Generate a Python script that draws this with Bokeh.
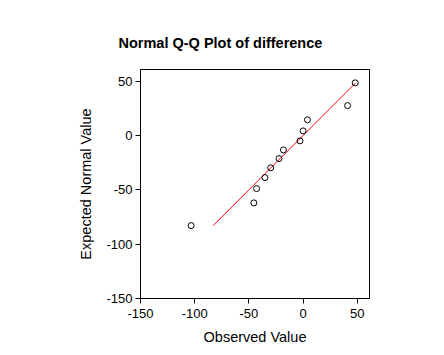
from bokeh.plotting import figure
from bokeh.models import Range1d, FixedTicker, CustomJSTickFormatter
from bokeh.embed import file_html
from bokeh.resources import INLINE

observed = [48.1, 41.1, 4.1, 0.0, -2.8, -18.1, -22.2, -29.9, -35.2, -42.9, -45.4, -103.3]
expected = [48.5, 27.6, 14.5, 4.3, -4.9, -13.2, -21.2, -29.7, -38.7, -48.8, -62.0, -82.9]
line_x = [-82.9, 48.5]
line_y = [-82.9, 48.5]
ticks = [-150, -100, -50, 0, 50]

FONT = "Liberation Sans"

p = figure(width=444, height=355, output_backend="svg", toolbar_location=None,
           x_range=Range1d(-150, 61.3), y_range=Range1d(-150, 60.8),
           title="Normal Q-Q Plot of difference",
           min_border_left=140, min_border_right=75, min_border_top=69, min_border_bottom=57)

p.title.text_font = FONT
p.title.text_font_size = "14.5px"
p.title.text_font_style = "bold"
p.title.text_color = "black"
p.title.align = "left"
p.title.offset = -22
p.title.standoff = 37

p.grid.visible = False
p.outline_line_color = "black"
p.outline_line_width = 1
p.background_fill_color = "white"
p.border_fill_color = "white"

for ax in (p.xaxis[0], p.yaxis[0]):
    ax.ticker = FixedTicker(ticks=ticks)
    ax.formatter = CustomJSTickFormatter(code="return tick.toString();")
    ax.minor_tick_line_color = None
    ax.major_tick_in = 0
    ax.major_tick_out = 5
    ax.axis_line_color = "black"
    ax.major_tick_line_color = "black"
    ax.major_label_text_font = FONT
    ax.major_label_text_font_size = "13px"
    ax.major_label_text_color = "black"
    ax.axis_label_text_font = FONT
    ax.axis_label_text_font_size = "14.5px"
    ax.axis_label_text_font_style = "normal"
    ax.axis_label_text_color = "black"

p.xaxis.axis_label = "Observed Value"
p.yaxis.axis_label = "Expected Normal Value"
p.xaxis.major_label_standoff = 5
p.yaxis.major_label_standoff = 3
p.xaxis.axis_label_standoff = 8
p.yaxis.axis_label_standoff = 9

p.line(line_x, line_y, line_color="red", line_width=1)
p.scatter(observed, expected, marker="circle", size=6, fill_color=None,
          line_color="black", line_width=1)

open("out.html", "w").write(file_html(p, INLINE))
